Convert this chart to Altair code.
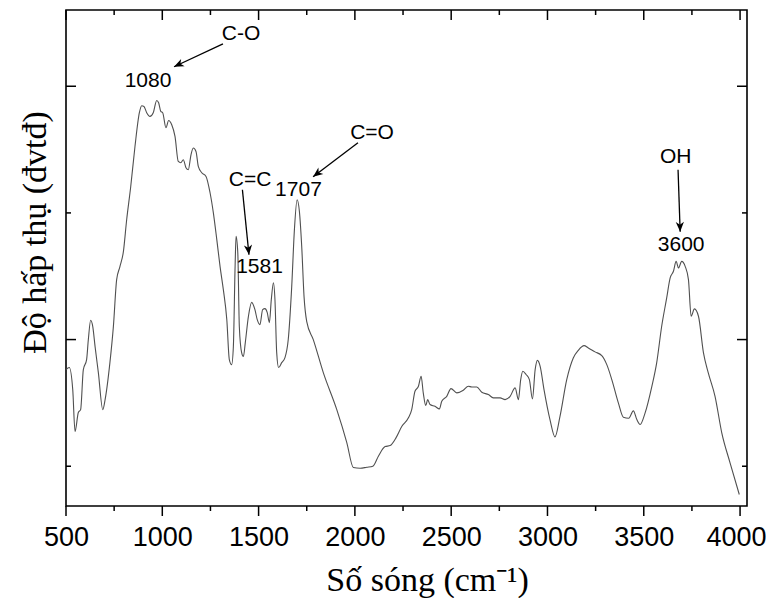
import math
import altair as alt
import pandas as pd

# ---- spectrum data (wavenumber cm-1, absorbance a.u.) ----
wavenumber = [500, 517, 535, 547, 564, 576, 590, 607, 616, 628, 639, 651, 668, 691, 703,
              728, 746, 763, 780, 798, 815, 836, 858, 881, 893, 905, 919, 936, 953, 971,
              981, 992, 1002, 1019, 1033, 1049, 1066, 1083, 1096, 1109, 1123, 1135, 1149,
              1161, 1175, 1187, 1205, 1227, 1248, 1265, 1283, 1300, 1317, 1335, 1348, 1360,
              1369, 1378, 1383, 1392, 1400, 1412, 1421, 1431, 1447, 1464, 1481, 1493, 1507,
              1521, 1533, 1545, 1556, 1566, 1577, 1585, 1594, 1604, 1620, 1637, 1654, 1672,
              1686, 1700, 1712, 1724, 1736, 1750, 1784, 1836, 1906, 1958, 1992, 2027, 2062,
              2093, 2122, 2157, 2183, 2214, 2244, 2278, 2295, 2312, 2330, 2344, 2355, 2368,
              2378, 2390, 2416, 2439, 2451, 2477, 2499, 2529, 2563, 2589, 2607, 2633, 2659,
              2693, 2719, 2754, 2780, 2806, 2832, 2849, 2861, 2872, 2889, 2906, 2922, 2936,
              2948, 2962, 2982, 3013, 3039, 3065, 3100, 3134, 3160, 3190, 3212, 3247, 3282,
              3308, 3334, 3368, 3394, 3422, 3446, 3464, 3481, 3507, 3542, 3567, 3593, 3619,
              3637, 3654, 3668, 3680, 3697, 3715, 3732, 3746, 3763, 3784, 3810, 3835, 3870,
              3905, 3948, 3996]
absorbance = [0.1763, 0.1779, 0.1605, 0.1274, 0.1424, 0.1447, 0.1763, 0.1842, 0.2000, 0.2152,
              0.2102, 0.1944, 0.1739, 0.1447, 0.1526, 0.1818, 0.2102, 0.2473, 0.2576, 0.2694,
              0.2946, 0.3207, 0.3522, 0.3791, 0.3846, 0.3840, 0.3791, 0.3762, 0.3791, 0.3888,
              0.3870, 0.3801, 0.3791, 0.3672, 0.3730, 0.3696, 0.3604, 0.3406, 0.3396, 0.3420,
              0.3357, 0.3341, 0.3459, 0.3512, 0.3485, 0.3367, 0.3317, 0.3288, 0.3159, 0.3002,
              0.2789, 0.2576, 0.2394, 0.2157, 0.1842, 0.1802, 0.1944, 0.2576, 0.2815, 0.2686,
              0.2102, 0.1897, 0.1866, 0.1976, 0.2181, 0.2294, 0.2236, 0.2157, 0.2118, 0.2236,
              0.2244, 0.2213, 0.2134, 0.2315, 0.2449, 0.2315, 0.1897, 0.1779, 0.1818, 0.1858,
              0.2000, 0.2418, 0.2868, 0.3104, 0.3010, 0.2733, 0.2339, 0.2142, 0.2000, 0.1739,
              0.1447, 0.1187, 0.0990, 0.0984, 0.0992, 0.1000, 0.1079, 0.1155, 0.1163, 0.1226,
              0.1316, 0.1382, 0.1447, 0.1592, 0.1631, 0.1710, 0.1579, 0.1479, 0.1526, 0.1487,
              0.1473, 0.1453, 0.1513, 0.1552, 0.1613, 0.1579, 0.1600, 0.1631, 0.1626, 0.1626,
              0.1584, 0.1566, 0.1540, 0.1540, 0.1526, 0.1552, 0.1619, 0.1526, 0.1684, 0.1750,
              0.1724, 0.1684, 0.1532, 0.1763, 0.1836, 0.1789, 0.1605, 0.1368, 0.1232, 0.1394,
              0.1684, 0.1855, 0.1915, 0.1952, 0.1934, 0.1903, 0.1873, 0.1802, 0.1684, 0.1500,
              0.1387, 0.1379, 0.1437, 0.1368, 0.1329, 0.1421, 0.1631, 0.1816, 0.2105, 0.2329,
              0.2487, 0.2539, 0.2617, 0.2565, 0.2617, 0.2578, 0.2473, 0.2184, 0.2242, 0.2184,
              0.1895, 0.1737, 0.1552, 0.1264, 0.1027, 0.0777]

# ---- axis ticks ----
x_major = [500, 1000, 1500, 2000, 2500, 3000, 3500, 4000]
x_minor = [750, 1250, 1750, 2250, 2750, 3250, 3750]
y_major = [0.2, 0.4]
y_minor = [0.1, 0.3]

# ---- annotations ----
ann_text = ["1080", "C-O", "C=C", "1581", "1707", "C=O", "OH", "3600"]
ann_x = [926, 1409, 1456, 1505, 1707, 2089, 3666, 3694]
ann_y = [0.4043, 0.4414, 0.3262, 0.2576, 0.3179, 0.3633, 0.3444, 0.2749]

arr_x1 = [1315, 1416, 2016, 3678]
arr_y1 = [0.4335, 0.3183, 0.3554, 0.3341]
arr_x2 = [1061, 1450, 1783, 3689]
arr_y2 = [0.4154, 0.2670, 0.3286, 0.2852]

W, H = 681, 496
X_DOM = [500, 4036]
Y_DOM = [0.0686, 0.4602]
kx = W / (X_DOM[1] - X_DOM[0])
ky = H / (Y_DOM[1] - Y_DOM[0])
angles = []
for a, b, c, d in zip(arr_x1, arr_y1, arr_x2, arr_y2):
    dx = (c - a) * kx
    dy = -(d - b) * ky
    angles.append(math.degrees(math.atan2(dx, -dy)) % 360)

spec = pd.DataFrame({"wn": wavenumber, "A": absorbance})
xmaj = pd.DataFrame({"t": x_major})
xmin = pd.DataFrame({"t": x_minor})
ymaj = pd.DataFrame({"t": y_major})
ymin = pd.DataFrame({"t": y_minor})
ann = pd.DataFrame({"label": ann_text, "x": ann_x, "y": ann_y})
arr = pd.DataFrame({"x1": arr_x1, "y1": arr_y1, "x2": arr_x2, "y2": arr_y2, "angle": angles})

xs = alt.Scale(domain=X_DOM, nice=False, zero=False)
ys = alt.Scale(domain=Y_DOM, nice=False, zero=False)

XAXIS = alt.Axis(orient="bottom", values=x_major, format="d", ticks=False, domain=False, grid=False,
                 labelFont="Liberation Sans", labelFontSize=27, labelColor="black",
                 labelPadding=18, labelFlush=False, labelOverlap=False,
                 labelOffset={"condition": {"test": "datum.value >= 4000", "value": -4}, "value": 0},
                 title="Số sóng (cm⁻¹)", titleFont="Liberation Serif",
                 titleFontSize=34, titleFontWeight="normal", titleColor="black",
                 titleX=361, titleY=84, titleBaseline="alphabetic", titleAlign="center")
YAXIS = alt.Axis(orient="left", labels=False, ticks=False, domain=False, grid=False,
                 title="Độ hấp thụ (đvtđ)", titleFont="Liberation Serif",
                 titleFontSize=34, titleFontWeight="normal", titleColor="black",
                 titleX=-31, titleY=222, titleAngle=270,
                 titleBaseline="middle", titleAlign="center")

line = alt.Chart(spec).mark_line(color="#505050", strokeWidth=1.1, interpolate="monotone").encode(
    x=alt.X("wn:Q", scale=xs, axis=XAXIS),
    y=alt.Y("A:Q", scale=ys, axis=YAXIS),
)


def xticks(df, y0, y1):
    return alt.Chart(df).mark_rule(color="black", strokeWidth=1.5).encode(
        x=alt.X("t:Q", scale=xs, axis=XAXIS), y=alt.value(y0), y2=alt.value(y1))


def yticks(df, x0, x1):
    return alt.Chart(df).mark_rule(color="black", strokeWidth=1.5).encode(
        y=alt.Y("t:Q", scale=ys, axis=YAXIS), x=alt.value(x0), x2=alt.value(x1))


ticks = [
    xticks(xmaj, H, H + 10), xticks(xmin, H, H + 5),
    xticks(xmaj, 0, 10), xticks(xmin, 0, 5),
    yticks(ymaj, 0, 10), yticks(ymin, 0, 5),
    yticks(ymaj, W, W - 10), yticks(ymin, W, W - 5),
]

arrow_lines = alt.Chart(arr).mark_rule(color="black", strokeWidth=1.3).encode(
    x=alt.X("x1:Q", scale=xs, axis=XAXIS), y=alt.Y("y1:Q", scale=ys, axis=YAXIS),
    x2="x2:Q", y2="y2:Q")

arrow_heads = alt.Chart(arr).mark_point(
    shape="M0,0L-0.42,1L0,0.72L0.42,1Z", filled=True, color="black", opacity=1, size=380
).encode(
    x=alt.X("x2:Q", scale=xs, axis=XAXIS), y=alt.Y("y2:Q", scale=ys, axis=YAXIS),
    angle=alt.Angle("angle:Q", scale=None))

labels = alt.Chart(ann).mark_text(font="Liberation Sans", fontSize=21, color="black",
                                  align="center", baseline="middle").encode(
    x=alt.X("x:Q", scale=xs, axis=XAXIS), y=alt.Y("y:Q", scale=ys, axis=YAXIS),
    text="label:N")

chart = alt.layer(line, *ticks, arrow_lines, arrow_heads, labels).properties(
    width=W, height=H,
    padding={"left": 58, "top": 2, "right": 19, "bottom": 92},
    autosize=alt.AutoSizeParams(type="none"),
).configure_view(stroke="black", strokeWidth=1.6)

chart.save("out.html", embed_options={"renderer": "svg", "actions": False})
